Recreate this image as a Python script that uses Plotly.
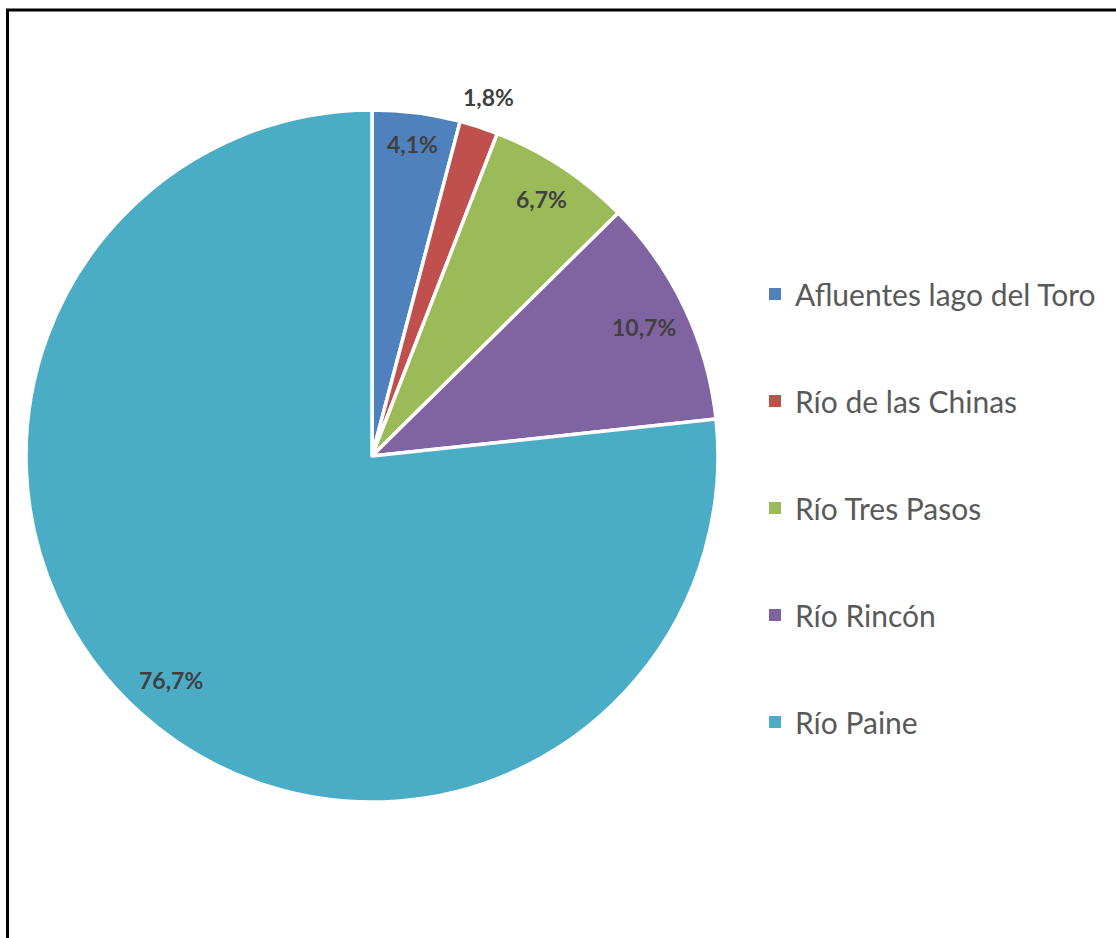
import math
import plotly.graph_objects as go

# Share of flow by tributary (percent)
categories = ["Afluentes lago del Toro", "Río de las Chinas", "Río Tres Pasos", "Río Rincón", "Río Paine"]
shares = [4.1, 1.8, 6.7, 10.7, 76.7]
colors = ["#4F81BD", "#C0504D", "#9BBB59", "#8064A2", "#4BACC6"]
# radial position of each percentage label, as a fraction of the pie radius
label_radius = [0.91, 1.09, 0.89, 0.87, 0.87]

W, H = 1116, 938
cx, cy, R = 372, 456, 346  # pie centre and radius in pixels

fig = go.Figure()

fig.add_trace(go.Pie(
    labels=categories,
    values=shares,
    sort=False,
    direction="clockwise",
    rotation=0,
    marker=dict(colors=colors, line=dict(color="white", width=3.5)),
    textinfo="none",
    hoverinfo="label+percent",
    showlegend=False,
    domain=dict(x=[(cx - R) / W, (cx + R) / W], y=[(H - cy - R) / H, (H - cy + R) / H]),
))

# percentage labels placed on each slice's bisector
total = sum(shares)
cum = 0.0
for v, f in zip(shares, label_radius):
    mid = (cum + v / 2) / total * 2 * math.pi
    cum += v
    px = cx + f * R * math.sin(mid)
    py = cy - f * R * math.cos(mid)
    fig.add_annotation(
        x=px / W, y=1 - py / H, xref="paper", yref="paper",
        text=f"{v:.1f}%".replace(".", ","), showarrow=False,
        font=dict(family="Lato", size=23, color="#404040", weight="bold"),
        xanchor="center", yanchor="middle",
    )

# legend entries, one group each so they can be spaced apart
for i, (name, c) in enumerate(zip(categories, colors)):
    fig.add_trace(go.Scatter(
        x=[None], y=[None], mode="markers", name=name,
        marker=dict(symbol="square", size=12, color=c),
        legendgroup=f"g{i}", showlegend=True, hoverinfo="skip",
    ))

fig.update_layout(
    width=W, height=H,
    margin=dict(l=0, r=0, t=0, b=0),
    paper_bgcolor="white", plot_bgcolor="white",
    xaxis=dict(visible=False), yaxis=dict(visible=False),
    legend=dict(
        x=755 / W, y=1 - 268 / H, xanchor="left", yanchor="top",
        font=dict(family="Lato", size=30, color="#595959"),
        tracegroupgap=65, bgcolor="rgba(0,0,0,0)",
    ),
    shapes=[dict(
        type="rect", xref="paper", yref="paper",
        x0=7.5 / W, x1=1.02, y0=-0.02, y1=1 - 10 / H,
        line=dict(color="black", width=3), fillcolor="rgba(0,0,0,0)",
    )],
)

fig.write_html("out.html")
